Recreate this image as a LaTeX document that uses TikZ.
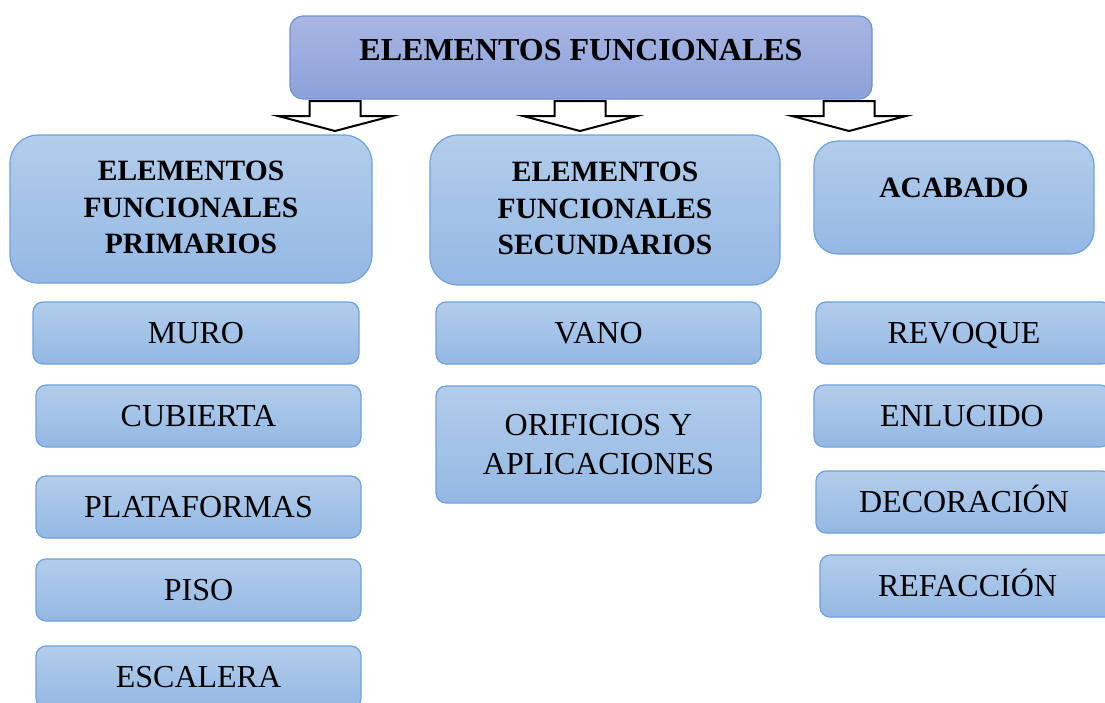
\documentclass[tikz,border=0pt]{standalone}
\usepackage{fontspec}
\setmainfont{Liberation Serif}
\definecolor{titletop}{HTML}{A8B6E2}
\definecolor{titlebot}{HTML}{8CA1D9}
\definecolor{titleline}{HTML}{7190D4}
\definecolor{boxtop}{HTML}{B3CDEB}
\definecolor{boxbot}{HTML}{94B8E4}
\definecolor{boxline}{HTML}{6FA2DA}
\tikzset{
  basebox/.style={draw=boxline, line width=1.2pt, top color=boxtop, bottom color=boxbot,
    inner sep=0pt, align=center},
  itembox/.style={basebox, rounded corners=10pt, minimum height=62pt,
    font=\fontsize{32}{39.5}\selectfont},
  itemone/.style={itembox, text height=21pt, text depth=0pt},
  headbox/.style={basebox, rounded corners=28pt, font=\bfseries\fontsize{29.5}{36.5}\selectfont},
  titlebox/.style={basebox, draw=titleline, top color=titletop, bottom color=titlebot,
    rounded corners=13pt, minimum width=582pt, minimum height=83pt,
    font=\bfseries\fontsize{32}{38}\selectfont},
  blockarr/.style={draw=black, fill=white, line width=2pt, line join=miter}
}
\newcommand{\blockarrow}[1]{%
  \draw[blockarr] (#1) ++(-25.5,0) -- ++(0,-15) -- ++(-31.5,0) -- ++(57,-15)
    -- ++(57,15) -- ++(-31.5,0) -- ++(0,15) -- cycle;}
\begin{document}
\begin{tikzpicture}[x=1pt,y=1pt]
\useasboundingbox (0,0) rectangle (1105,-702);
% title
\node[titlebox] (title) at (581,-57.5) {\raisebox{7.5pt}[\height][\depth]{ELEMENTOS FUNCIONALES}};
% block arrows
\coordinate (a1) at (335,-101);
\coordinate (a2) at (580,-101);
\coordinate (a3) at (849,-101);
\blockarrow{a1}
\blockarrow{a2}
\blockarrow{a3}
% headers
\node[headbox, minimum width=362pt, minimum height=148pt] (prim) at (191,-209)
  {\raisebox{-1pt}[\height][\depth]{\begin{tabular}{@{}c@{}}ELEMENTOS\\FUNCIONALES\\PRIMARIOS\end{tabular}}};
\node[headbox, minimum width=350pt, minimum height=150pt] (sec) at (605,-210)
  {\raisebox{-1pt}[\height][\depth]{\begin{tabular}{@{}c@{}}ELEMENTOS\\FUNCIONALES\\SECUNDARIOS\end{tabular}}};
\node[headbox, rounded corners=24pt, minimum width=280pt, minimum height=113pt] (acab) at (954,-197.5)
  {\raisebox{10pt}[\height][\depth]{ACABADO}};
% left column
\node[itemone, minimum width=326pt] (muro) at (196,-333) {MURO};
\node[itemone, minimum width=325pt] (cub) at (198.5,-416) {CUBIERTA};
\node[itemone, minimum width=325pt] (plat) at (198.5,-507) {PLATAFORMAS};
\node[itemone, minimum width=325pt] (piso) at (198.5,-590) {PISO};
\node[itemone, minimum width=325pt] (esc) at (198.5,-677) {ESCALERA};
% middle column
\node[itemone, minimum width=325pt] (vano) at (598.5,-333) {VANO};
\node[itembox, minimum width=325pt, minimum height=117pt] (orif) at (598.5,-444.5)
  {ORIFICIOS Y\\APLICACIONES};
% right column
\node[itemone, minimum width=296pt] (rev) at (964,-333) {REVOQUE};
\node[itemone, minimum width=296pt] (enl) at (962,-416) {ENLUCIDO};
\node[itemone, minimum width=296pt] (deco) at (964,-502) {DECORACIÓN};
\node[itemone, minimum width=295pt] (refa) at (967.5,-586) {REFACCIÓN};
\end{tikzpicture}
\end{document}
